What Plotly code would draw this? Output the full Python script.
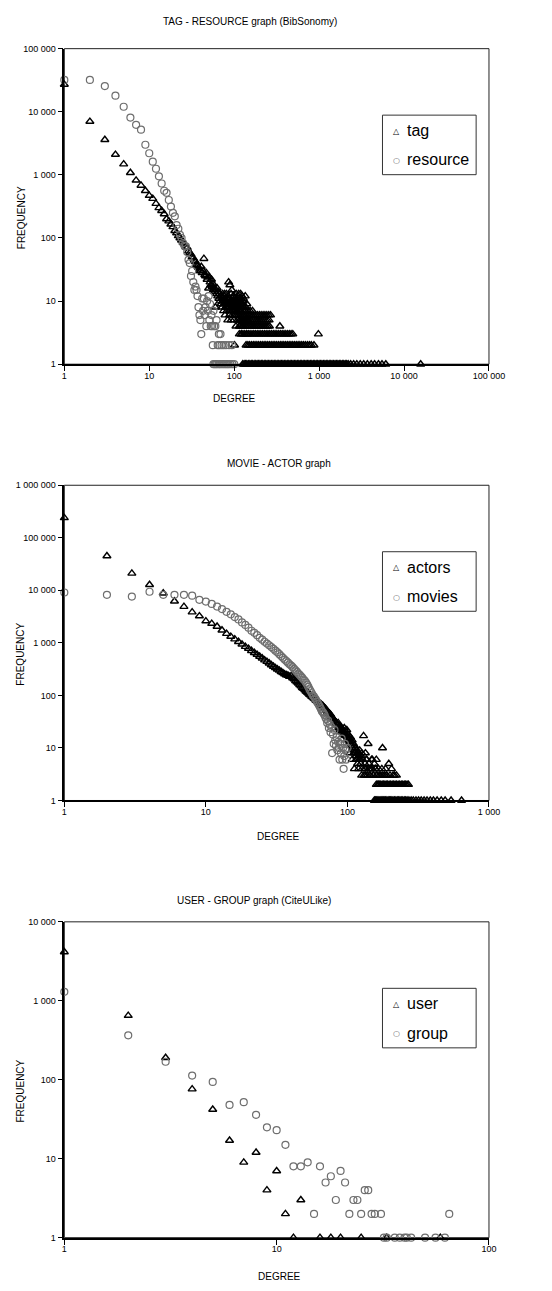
import plotly.graph_objects as go

# ---------------- Chart 1 : TAG - RESOURCE graph (BibSonomy) ----------------
tag_head_deg = [1, 2, 3, 4, 5, 6, 7, 8, 9, 10, 11, 12, 13, 14, 15, 16, 17, 18, 19, 20,
                21, 22, 23, 24, 25, 26, 27, 28, 29, 30, 31, 32, 33, 34, 35, 36, 37, 38, 39, 40,
                41, 42, 43, 44, 45, 46, 47, 48, 49, 50, 51, 52, 53, 54, 55, 56, 57, 58, 59, 60,
                61, 62, 63, 64, 65, 66, 67, 68, 69, 70]
tag_head_freq = [27000, 7000, 3600, 2100, 1480, 1080, 820, 680, 560, 470,
                 420, 350, 300, 270, 240, 200, 185, 165, 150, 130,
                 120, 108, 100, 92, 85, 80, 72, 70, 62, 58,
                 55, 50, 48, 44, 42, 38, 36, 34, 32, 30,
                 35, 28, 30, 47, 26, 25, 28, 22, 24, 16,
                 24, 20, 18, 22, 17, 19, 15, 16, 14, 8,
                 15, 13, 16, 12, 14, 11, 13, 10, 12, 9]
tag_mid_deg = [71, 72, 73, 74, 75, 76, 77, 78, 79, 80, 81, 82, 83, 84, 85, 86, 87, 88, 89, 90,
               91, 92, 93, 94, 95, 96, 97, 98, 99, 100, 102, 104, 105, 107, 108, 110, 112, 113, 115, 117,
               118, 120, 122, 124, 125, 127, 128, 130, 132, 134, 136, 138, 140, 143]
tag_mid_freq = [12, 8, 10, 11, 7, 9, 13, 6, 10, 8, 9, 7, 11, 5, 8, 20, 9, 6, 18, 7,
                10, 5, 8, 15, 6, 9, 7, 12, 5, 8, 6, 10, 4, 7, 9, 5, 6, 13, 4, 7,
                5, 8, 3, 6, 5, 4, 10, 6, 5, 7, 4, 6, 3, 5]
tag_deg_f13 = [73, 81, 92, 106, 119]
tag_deg_f12 = [76, 85, 97, 111, 124, 135]
tag_deg_f11 = [78, 88, 101, 114, 128]
tag_deg_f10 = [75, 82, 91, 96, 103, 109, 117, 125]
tag_deg_f9 = [84, 90, 99, 104, 111, 119, 127, 141]
tag_deg_f8 = [80, 86, 93, 98, 105, 112, 121, 129, 137]
tag_deg_f7 = [88, 94, 101, 107, 114, 121, 128, 136, 145, 154, 164]
tag_deg_f6 = [100, 106, 112, 118, 125, 132, 139, 146, 154, 162, 170, 179, 188, 198, 208, 219,
              230, 242, 255, 268]
tag_deg_f5 = [110, 116, 122, 128, 135, 142, 149, 157, 165, 173, 182, 191, 201, 211, 222, 233, 245, 258]
tag_deg_f4 = [118, 124, 130, 137, 144, 151, 159, 167, 175, 184, 193, 203, 213, 224, 235, 247, 260, 345]
tag_deg_f3 = [115, 121, 127, 133, 140, 147, 154, 162, 170, 178, 187, 196, 206, 216, 227, 238, 250,
              262, 275, 289, 303, 318, 334, 351, 368, 386, 405, 425, 446, 468, 490, 980]
tag_deg_f2 = [101, 138, 145, 152, 160, 168, 176, 185, 194, 204, 214, 225, 236, 248, 260, 273, 287,
              301, 316, 332, 349, 366, 384, 403, 423, 444, 466, 489, 513, 539, 566, 594, 624, 655,
              690, 730, 770, 810, 870]
tag_deg_f1 = [126, 131, 136, 141, 147, 153, 159, 165, 172, 179, 186, 193, 201, 209, 217, 226, 235,
              244, 254, 264, 275, 286, 297, 309, 321, 334, 347, 361, 375, 390, 406, 422, 439, 456,
              474, 493, 513, 533, 555, 577, 600, 624, 649, 675, 702, 730, 759, 790, 821, 854, 888,
              924, 961, 999, 1040, 1080, 1125, 1170, 1215, 1265, 1315, 1370, 1420, 1480, 1540, 1600,
              1665, 1730, 1800, 1875, 1950, 2030, 2110, 2200, 2350, 2550, 2780, 3050, 3350, 3700,
              4100, 4500, 5000, 5500, 6100, 15700]

res_head_deg = [1, 2, 3, 4, 5, 6, 7, 8, 9, 10, 11, 12, 13, 14, 15, 16, 17, 18, 19, 20,
                21, 22, 23, 24, 25, 26, 27, 28, 29, 30, 31, 32, 33, 34, 35, 36, 37, 38, 39, 40,
                41, 42, 43, 44, 45, 46, 47, 48, 49, 50]
res_head_freq = [32000, 32000, 25500, 18000, 12000, 8100, 6200, 5200, 3000, 2200,
                 1620, 1250, 950, 730, 560, 520, 400, 315, 250, 220,
                 160, 140, 112, 100, 83, 75, 74, 60, 45, 40,
                 25, 30, 20, 15, 17, 15, 12, 8, 6, 5,
                 3, 11, 7, 11, 6, 8, 4, 10, 7, 12]
res_tail_deg = [51, 52, 53, 54, 55, 57, 58, 60, 62, 66, 69]
res_tail_freq = [5, 9, 4, 6, 4, 7, 4, 4, 5, 3, 3]
res_deg_f2 = [56, 64, 67, 71, 75, 80, 87, 94]
res_deg_f1 = [57, 59, 61, 63, 66, 68, 71, 74, 77, 80, 83, 86, 90, 95, 100]

# ---------------- Chart 2 : MOVIE - ACTOR graph ----------------
actor_head_deg = [1, 2, 3, 4, 5, 6, 7, 8, 9, 10, 11, 12, 13, 14, 15, 16, 17, 18, 19, 20,
                  21, 22, 23, 24, 25, 26, 27, 28, 29, 30, 31, 32, 33, 34, 35, 36, 37, 38, 39, 40,
                  41, 42, 43, 44, 45, 46, 47, 48, 49, 50, 51, 52, 53, 54, 55, 56, 57, 58, 59, 60,
                  61, 62, 63, 64, 65, 66, 67, 68, 69, 70, 71, 72, 73, 74, 75, 76, 77, 78, 79, 80,
                  81, 82, 83, 84, 85]
actor_head_freq = [240000, 45000, 21000, 12800, 8800, 6200, 4900, 3850, 3240, 2600,
                   2330, 2050, 1740, 1500, 1320, 1180, 1050, 940, 850, 780,
                   710, 650, 600, 550, 510, 470, 440, 410, 380, 355,
                   335, 315, 300, 282, 268, 255, 245, 240, 228, 235,
                   215, 205, 190, 180, 170, 160, 150, 140, 135, 128,
                   120, 115, 110, 104, 100, 95, 92, 88, 85, 80,
                   78, 76, 72, 70, 68, 65, 64, 60, 58, 56,
                   52, 50, 48, 46, 45, 43, 40, 38, 36, 35,
                   33, 32, 30, 28, 27]
actor_tail_deg = [86, 87, 88, 89, 90, 91, 92, 93, 94, 95, 96, 97, 98, 99, 100, 101, 102, 103, 104, 105,
                  106, 107, 108, 109, 110, 111, 112, 113, 114, 115, 116, 117, 118, 119, 120, 121, 122,
                  124, 125, 127, 128, 130, 131, 133, 135, 137, 138, 140, 142, 144, 145, 147, 150, 152,
                  155, 157, 162, 165, 172, 177, 183, 190, 196, 205, 215]
actor_tail_freq = [30, 24, 26, 22, 25, 20, 23, 21, 18, 24, 19, 17, 20, 22, 16, 18, 14, 15, 13, 16,
                   12, 11, 14, 10, 12, 9, 11, 8, 10, 7, 9, 6, 5, 8, 7, 6, 9,
                   5, 7, 4, 6, 17, 3, 5, 4, 6, 3, 12, 5, 4, 3, 4, 6, 3,
                   5, 4, 3, 2, 3, 10, 3, 3, 5, 4, 3]
actor_deg_f8 = [104, 111, 118, 126, 134]
actor_deg_f6 = [108, 115, 123, 136, 148, 160]
actor_deg_f4 = [112, 120, 132, 141, 150, 158, 166, 175, 186]
actor_deg_f3 = [126, 134, 143, 153, 160, 168, 178, 188, 200, 210, 222]
actor_deg_f2 = [160, 164, 168, 172, 176, 180, 184, 188, 192, 197, 202, 207, 212, 217, 222, 228, 234,
                240, 246, 252, 258, 264, 270]
actor_deg_f1 = [155, 158, 161, 164, 167, 170, 173, 176, 179, 182, 186, 190, 194, 198, 202, 206, 210,
                215, 220, 225, 230, 235, 240, 246, 252, 258, 264, 272, 282, 292, 305, 318, 332, 348,
                365, 385, 405, 430, 460, 490, 540, 640]

movie_deg = [1, 2, 3, 4, 5, 6, 7, 8, 9, 10, 11, 12, 13, 14, 15, 16, 17, 18, 19, 20,
             21, 22, 23, 24, 25, 26, 27, 28, 29, 30, 31, 32, 33, 34, 35, 36, 37, 38, 39, 40,
             41, 42, 43, 44, 45, 46, 47, 48, 49, 50, 51, 52, 53, 54, 55, 56, 57, 58, 59, 60,
             61, 62, 63, 64, 65, 66, 67, 68, 69, 70, 71, 72, 73, 74, 75, 76, 77, 78, 79, 80,
             81, 82, 83, 84, 85, 86, 87, 88, 89, 90, 91, 92, 93, 94, 95, 96, 97, 98, 100]
movie_freq = [9100, 8200, 7600, 9400, 8200, 8200, 8200, 7900, 6600, 6100,
              5500, 4900, 4400, 3900, 3500, 3100, 2800, 2450, 2200, 1950,
              1700, 1550, 1400, 1250, 1150, 1050, 970, 900, 830, 770,
              710, 660, 610, 560, 520, 480, 450, 420, 390, 370,
              345, 320, 300, 280, 260, 245, 230, 215, 200, 190,
              175, 160, 145, 130, 120, 110, 100, 95, 88, 82,
              75, 70, 65, 60, 55, 50, 48, 45, 42, 38,
              35, 30, 33, 24, 28, 20, 25, 8, 18, 12,
              22, 14, 11, 16, 9, 13, 10, 6, 12, 8,
              15, 6, 10, 4, 7, 12, 9, 6, 10]

# ---------------- Chart 3 : USER - GROUP graph (CiteULike) ----------------
user_deg = [1, 2, 3, 4, 5, 6, 7, 8, 9, 10, 11, 12, 13, 16, 18, 20, 25, 33, 59]
user_freq = [4150, 650, 190, 76, 42, 17, 9, 12, 4, 7, 2, 1, 3, 1, 1, 1, 1, 1, 1]
group_deg = [1, 2, 3, 4, 5, 6, 7, 8, 9, 10, 11, 12, 13, 14, 15, 16, 17, 18, 19, 20,
             21, 22, 23, 24, 25, 26, 27, 28, 29, 31, 32, 33, 36, 38, 40, 41, 43, 50, 56, 62, 65]
group_freq = [1300, 365, 169, 113, 94, 48, 52, 36, 25, 23, 15, 8, 8, 9, 2, 8, 5, 6, 3, 7,
              5, 2, 3, 3, 2, 4, 4, 2, 2, 2, 1, 1, 1, 1, 1, 1, 1, 1, 1, 1, 2]

# tick labels
tick_vals = [1, 10, 100, 1000, 10000, 100000, 1000000]
tick_text = ["1", "10", "100", "1 000", "10 000", "100 000", "1 000 000"]

titles = ["TAG - RESOURCE graph (BibSonomy)", "MOVIE - ACTOR graph", "USER - GROUP graph (CiteULike)"]
legend_names = [("tag", "resource"), ("actors", "movies"), ("user", "group")]

# ------------------------------------------------------------------
W, H = 552, 1291
FONT = "Arial, Liberation Sans, sans-serif"
GRAY = "#6e6e6e"


def py(px):
    return 1 - px / H


def pxf(p):
    return p / W


x_dom = [pxf(63.5), pxf(503.3)]
panels = [
    dict(top=44, bottom=362, xr=[0, 5], yr=[0, 5]),
    dict(top=484, bottom=801.7, xr=[0, 3], yr=[0, 6]),
    dict(top=924, bottom=1242.3, xr=[0, 2], yr=[0, 4]),
]

tri = dict(symbol="triangle-up-open", size=7, color="black", line=dict(width=1.4, color="black"))
circ = dict(symbol="circle-open", size=7, color=GRAY, line=dict(width=1.2, color=GRAY))


def levels(pairs):
    xs, ys = [], []
    for f, degs in pairs:
        xs = xs + degs
        ys = ys + [f] * len(degs)
    return xs, ys


lx, ly = levels([(13, tag_deg_f13), (12, tag_deg_f12), (11, tag_deg_f11), (10, tag_deg_f10),
                 (9, tag_deg_f9), (8, tag_deg_f8), (7, tag_deg_f7), (6, tag_deg_f6), (5, tag_deg_f5),
                 (4, tag_deg_f4), (3, tag_deg_f3), (2, tag_deg_f2), (1, tag_deg_f1)])
tag_x = tag_head_deg + tag_mid_deg + lx
tag_y = tag_head_freq + tag_mid_freq + ly

lx, ly = levels([(2, res_deg_f2), (1, res_deg_f1)])
res_x = res_head_deg + res_tail_deg + lx
res_y = res_head_freq + res_tail_freq + ly

lx, ly = levels([(8, actor_deg_f8), (6, actor_deg_f6), (4, actor_deg_f4), (3, actor_deg_f3),
                 (2, actor_deg_f2), (1, actor_deg_f1)])
act_x = actor_head_deg + actor_tail_deg + lx
act_y = actor_head_freq + actor_tail_freq + ly

fig = go.Figure()
series = [
    (tag_x, tag_y, "tag", tri, ""),
    (res_x, res_y, "resource", circ, ""),
    (act_x, act_y, "actors", tri, "2"),
    (movie_deg, movie_freq, "movies", circ, "2"),
    (user_deg, user_freq, "user", tri, "3"),
    (group_deg, group_freq, "group", circ, "3"),
]
for xs, ys, name, mk, ax in series:
    fig.add_trace(go.Scatter(x=xs, y=ys, mode="markers", name=name, marker=mk,
                             xaxis="x" + ax, yaxis="y" + ax, showlegend=False,
                             cliponaxis=False))

layout = dict(width=W, height=H, margin=dict(l=0, r=0, t=0, b=0),
              paper_bgcolor="white", plot_bgcolor="white", showlegend=False,
              font=dict(family=FONT, color="black"), annotations=[], shapes=[])

title_pos = [(256, 17), (286, 462), (260, 902)]
deg_pos = [(240, 397), (285, 838), (286, 1281)]
legend_tops = [111, 551, 991]

for i, p in enumerate(panels):
    sfx = "" if i == 0 else str(i + 1)
    ydom = [py(p["bottom"]), py(p["top"])]
    axis_common = dict(type="log", showgrid=False, zeroline=False, ticks="outside", ticklen=5,
                       tickcolor="black", tickwidth=1, showline=True, linecolor="black",
                       tickvals=tick_vals, ticktext=tick_text,
                       tickfont=dict(size=9, family=FONT, color="black"))
    layout["xaxis" + sfx] = dict(axis_common, domain=x_dom, range=p["xr"], anchor="y" + sfx,
                                 linewidth=2, ticklabelstandoff=-3)
    layout["yaxis" + sfx] = dict(axis_common, domain=ydom, range=p["yr"], anchor="x" + sfx,
                                 linewidth=1.5)
    layout["shapes"].append(dict(type="rect", xref="x" + sfx + " domain", yref="y" + sfx + " domain",
                                 x0=0, x1=1, y0=0, y1=1, line=dict(color="#222222", width=1),
                                 layer="below"))
    tx, ty = title_pos[i]
    layout["annotations"].append(dict(text=titles[i], xref="paper", yref="paper", x=pxf(tx), y=py(ty),
                                      showarrow=False, font=dict(size=10, family=FONT),
                                      xanchor="center", yanchor="middle"))
    dx, dy = deg_pos[i]
    layout["annotations"].append(dict(text="DEGREE", xref="paper", yref="paper", x=pxf(dx), y=py(dy),
                                      showarrow=False, font=dict(size=10, family=FONT),
                                      xanchor="center", yanchor="middle"))
    fy = (p["top"] + p["bottom"]) / 2 + 11
    layout["annotations"].append(dict(text="FREQUENCY", xref="paper", yref="paper", x=pxf(18.5), y=py(fy),
                                      showarrow=False, textangle=-90, font=dict(size=10, family=FONT),
                                      xanchor="center", yanchor="middle"))
    # legend box
    lt = legend_tops[i]
    layout["shapes"].append(dict(type="rect", xref="paper", yref="paper", x0=pxf(393), x1=pxf(490),
                                 y0=py(lt + 60), y1=py(lt), line=dict(color="#333333", width=1),
                                 fillcolor="white", layer="above"))
    n1, n2 = legend_names[i]
    for k, (nm, glyph, col) in enumerate([(n1, "△", "black"), (n2, "○", GRAY)]):
        yc = lt + 15.7 + 29.5 * k
        layout["annotations"].append(dict(text=glyph, xref="paper", yref="paper", x=pxf(408), y=py(yc + 0.5),
                                          showarrow=False, xanchor="center", yanchor="middle",
                                          font=dict(size=8, family="DejaVu Sans", color=col)))
        layout["annotations"].append(dict(text=nm, xref="paper", yref="paper", x=pxf(416), y=py(yc),
                                          showarrow=False, xanchor="left", yanchor="middle",
                                          font=dict(size=16, family=FONT, color="black")))

fig.update_layout(**layout)
fig.write_html("out.html", config={"displayModeBar": False},
               post_script="document.body.style.margin='0';")
